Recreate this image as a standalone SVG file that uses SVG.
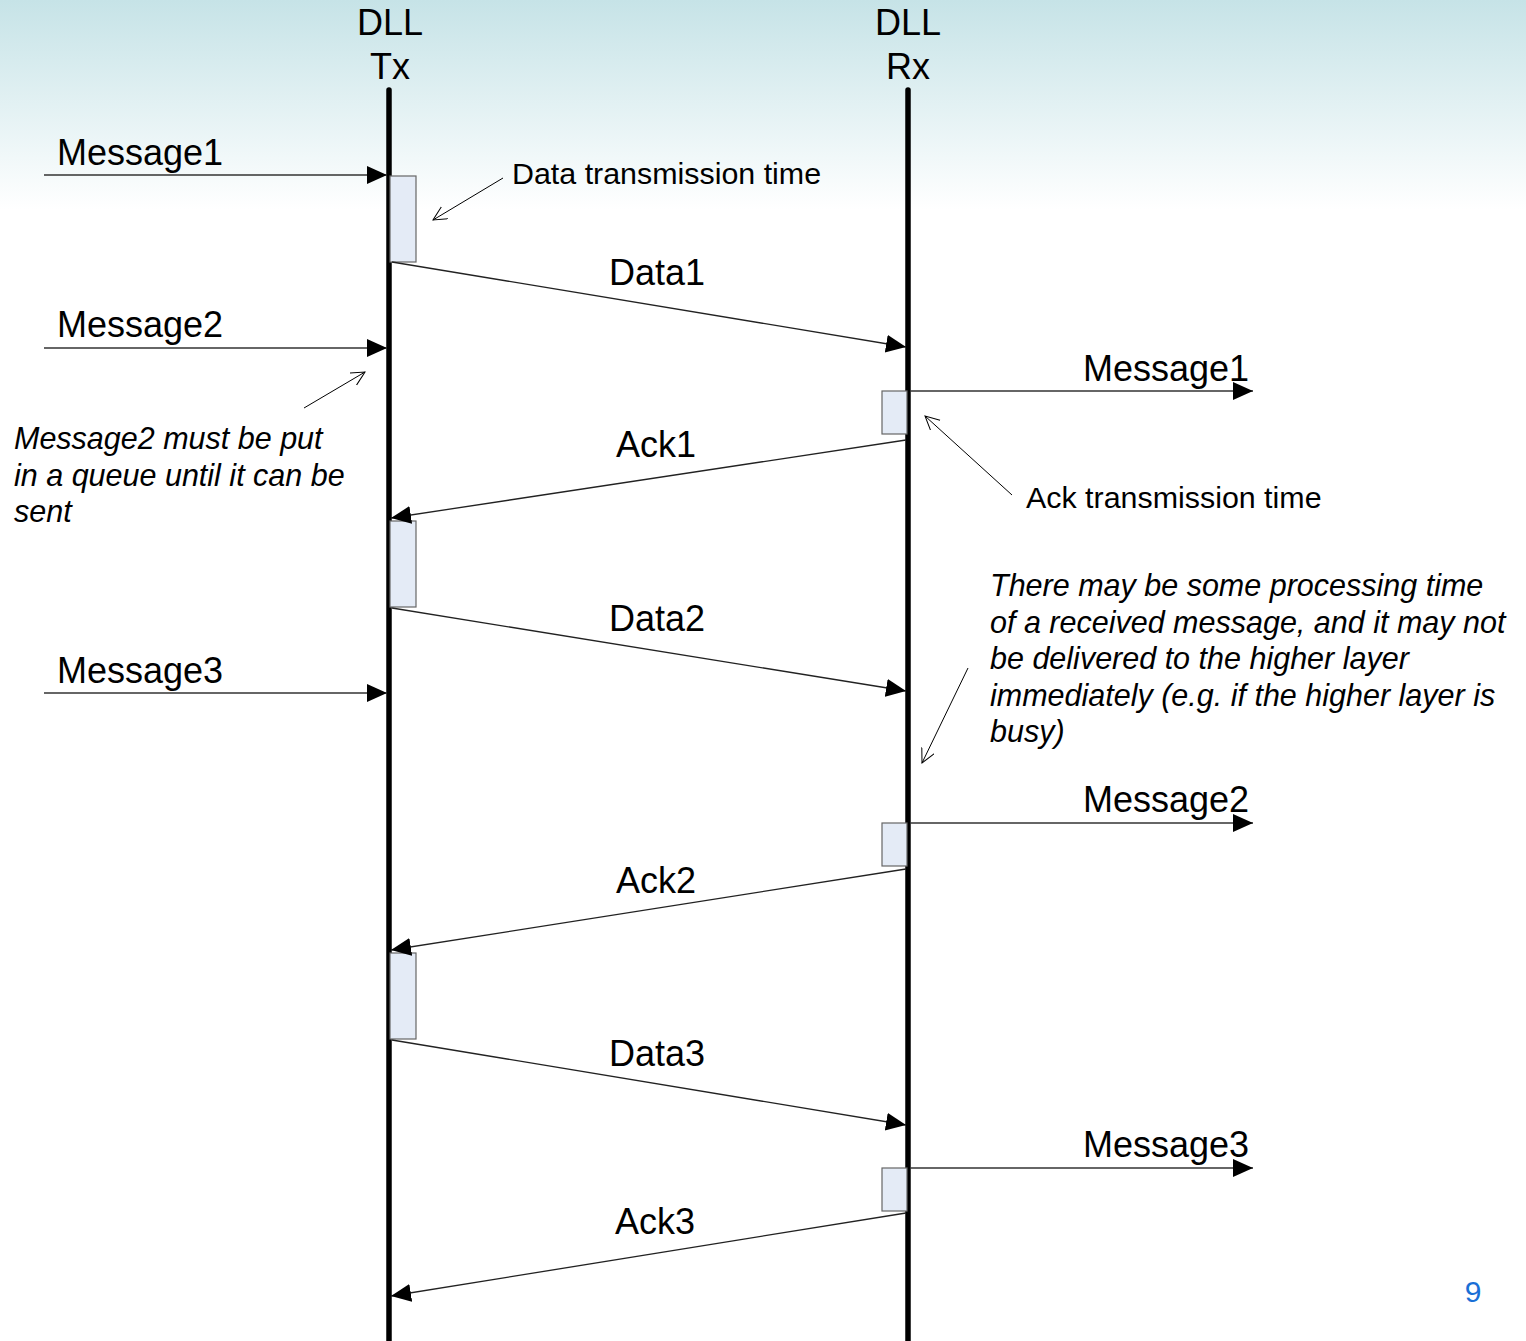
<svg xmlns="http://www.w3.org/2000/svg" width="1526" height="1341" viewBox="0 0 1526 1341">
<defs>
<linearGradient id="bg" x1="0" y1="0" x2="0" y2="1">
<stop offset="0" stop-color="#c6e3e7"/>
<stop offset="1" stop-color="#ffffff"/>
</linearGradient>
<marker id="fa" markerUnits="userSpaceOnUse" markerWidth="24" markerHeight="20" refX="20" refY="9" orient="auto">
<path d="M0,0 L20,9 L0,18 Z" fill="#000"/>
</marker>
<marker id="oa" markerUnits="userSpaceOnUse" markerWidth="16" markerHeight="16" refX="14" refY="7" orient="auto">
<path d="M0,0 L14,7 L0,14" fill="none" stroke="#000" stroke-width="1"/>
</marker>
<style>
.t{font-family:"Liberation Sans",Arial,sans-serif;fill:#000}
.lbl{font-size:36px}
.ann{font-size:30.4px}
.it{font-size:30.5px;font-style:italic}
.msg{stroke:#333;stroke-width:1.5;fill:none}
.sig{stroke:#222;stroke-width:1.3;fill:none}
.note{stroke:#000;stroke-width:1;fill:none}
.box{fill:#e4ebf6;stroke:#666;stroke-width:1.2}
.life{stroke:#000;stroke-width:5.5;stroke-linecap:round}
</style>
</defs>
<rect x="0" y="0" width="1526" height="210" fill="url(#bg)"/>
<rect x="0" y="210" width="1526" height="1131" fill="#fff"/>

<g id="tx">
<text class="t lbl" x="390" y="35" text-anchor="middle">DLL</text>
<text class="t lbl" x="390" y="79" text-anchor="middle">Tx</text>
<line class="life" x1="389" y1="90" x2="389" y2="1345"/>
</g>
<g id="rx">
<text class="t lbl" x="908" y="35" text-anchor="middle">DLL</text>
<text class="t lbl" x="908" y="79" text-anchor="middle">Rx</text>
<line class="life" x1="908" y1="90" x2="908" y2="1345"/>
</g>

<g id="tx-boxes">
<rect class="box" x="390" y="176" width="26" height="86"/>
<rect class="box" x="390" y="521" width="26" height="86"/>
<rect class="box" x="390" y="953" width="26" height="86"/>
</g>
<g id="rx-boxes">
<rect class="box" x="882" y="391" width="25" height="43"/>
<rect class="box" x="882" y="823" width="25" height="43"/>
<rect class="box" x="882" y="1168" width="25" height="43"/>
</g>

<g id="connectors">
<line class="msg" x1="44" y1="175" x2="387" y2="175" marker-end="url(#fa)"/>
<line class="msg" x1="44" y1="348" x2="387" y2="348" marker-end="url(#fa)"/>
<line class="msg" x1="44" y1="693" x2="387" y2="693" marker-end="url(#fa)"/>
<line class="msg" x1="910" y1="391" x2="1253" y2="391" marker-end="url(#fa)"/>
<line class="msg" x1="910" y1="823" x2="1253" y2="823" marker-end="url(#fa)"/>
<line class="msg" x1="910" y1="1168" x2="1253" y2="1168" marker-end="url(#fa)"/>
<line class="sig" x1="392" y1="262" x2="906" y2="347" marker-end="url(#fa)"/>
<line class="sig" x1="392" y1="608" x2="906" y2="691" marker-end="url(#fa)"/>
<line class="sig" x1="392" y1="1040" x2="906" y2="1125" marker-end="url(#fa)"/>
<line class="sig" x1="906" y1="440" x2="391" y2="518" marker-end="url(#fa)"/>
<line class="sig" x1="906" y1="869" x2="391" y2="950" marker-end="url(#fa)"/>
<line class="sig" x1="906" y1="1213" x2="391" y2="1296" marker-end="url(#fa)"/>
<line class="note" x1="503" y1="178" x2="433" y2="220" marker-end="url(#oa)"/>
<line class="note" x1="304" y1="408" x2="365" y2="372" marker-end="url(#oa)"/>
<line class="note" x1="1012" y1="495" x2="925" y2="416" marker-end="url(#oa)"/>
<line class="note" x1="968" y1="668" x2="922" y2="763" marker-end="url(#oa)"/>
</g>

<g id="labels">
<text class="t lbl" x="57" y="165">Message1</text>
<text class="t lbl" x="57" y="337">Message2</text>
<text class="t lbl" x="57" y="683">Message3</text>
<text class="t lbl" x="1083" y="381">Message1</text>
<text class="t lbl" x="1083" y="812">Message2</text>
<text class="t lbl" x="1083" y="1157">Message3</text>
<text class="t lbl" x="657" y="285" text-anchor="middle">Data1</text>
<text class="t lbl" x="657" y="631" text-anchor="middle">Data2</text>
<text class="t lbl" x="657" y="1066" text-anchor="middle">Data3</text>
<text class="t lbl" x="656" y="457" text-anchor="middle">Ack1</text>
<text class="t lbl" x="656" y="893" text-anchor="middle">Ack2</text>
<text class="t lbl" x="655" y="1234" text-anchor="middle">Ack3</text>
<text class="t ann" x="512" y="184">Data transmission time</text>
<text class="t ann" x="1026" y="508">Ack transmission time</text>
<text class="t it" x="14" y="449">Message2 must be put</text>
<text class="t it" x="14" y="486">in a queue until it can be</text>
<text class="t it" x="14" y="522">sent</text>
<text class="t it" x="990" y="596">There may be some processing time</text>
<text class="t it" x="990" y="633">of a received message, and it may not</text>
<text class="t it" x="990" y="669">be delivered to the higher layer</text>
<text class="t it" x="990" y="706">immediately (e.g. if the higher layer is</text>
<text class="t it" x="990" y="742">busy)</text>
<text x="1473" y="1302" text-anchor="middle" style="font-family:'Liberation Sans',Arial,sans-serif;font-size:30px;fill:#1a6fd6">9</text>
</g>
</svg>
